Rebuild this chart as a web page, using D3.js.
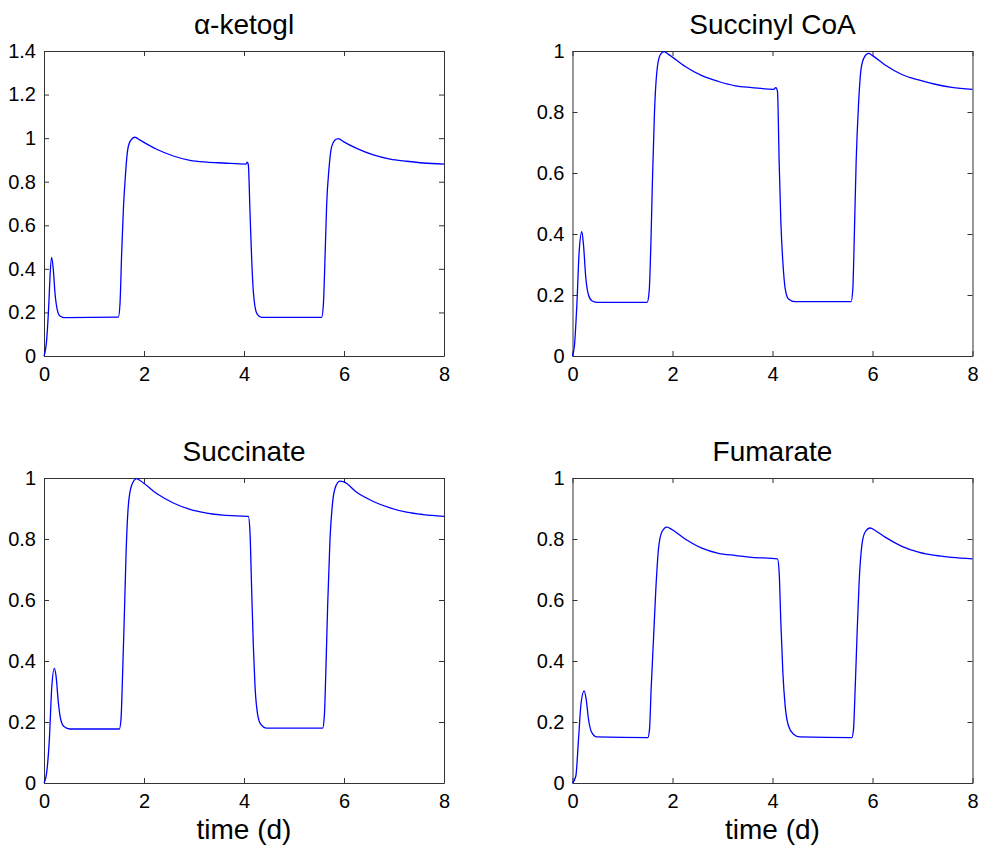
<!DOCTYPE html>
<html>
<head>
<meta charset="utf-8">
<script src="https://cdn.jsdelivr.net/npm/d3@7"></script>
<style>
  body { margin: 0; background: #fff; }
  text { font-family: "Liberation Sans", Arial, Helvetica, sans-serif; }
</style>
</head>
<body>
<svg id="chart" width="982" height="850"></svg>
<script>
// time axis ticks (days)
const xTicks = [0, 2, 4, 6, 8];
const yTicksKeto = [0, 0.2, 0.4, 0.6, 0.8, 1, 1.2, 1.4];
const yTicksUnit = [0, 0.2, 0.4, 0.6, 0.8, 1];

// alpha-ketoglutarate
const tKeto = [0, 0.053, 0.1, 0.12, 0.153, 0.187, 0.22, 0.267, 0.32, 0.42, 1.487, 1.52, 1.553, 1.587, 1.62, 1.667, 1.72, 1.82, 1.92, 2.253, 2.587, 2.92, 3.253, 3.587, 4.04, 4.067, 4.087, 4.12, 4.153, 4.187, 4.22, 4.267, 4.353, 5.553, 5.587, 5.62, 5.653, 5.7, 5.753, 5.82, 5.887, 5.987, 6.253, 6.587, 6.92, 7.253, 7.587, 8];
const vKeto = [0, 0.073, 0.257, 0.364, 0.453, 0.394, 0.288, 0.211, 0.184, 0.176, 0.178, 0.24, 0.47, 0.67, 0.8, 0.935, 0.984, 1.004, 0.991, 0.949, 0.918, 0.898, 0.89, 0.886, 0.881, 0.89, 0.877, 0.66, 0.448, 0.295, 0.226, 0.191, 0.177, 0.177, 0.234, 0.448, 0.693, 0.861, 0.961, 0.991, 0.998, 0.984, 0.953, 0.923, 0.904, 0.894, 0.886, 0.881];

// succinyl CoA
const tSucCoA = [0, 0.04, 0.087, 0.133, 0.187, 0.22, 0.267, 0.32, 0.387, 0.487, 1.493, 1.533, 1.567, 1.6, 1.64, 1.687, 1.753, 1.833, 1.92, 2.253, 2.587, 2.92, 3.253, 3.587, 4.02, 4.067, 4.1, 4.133, 4.167, 4.207, 4.253, 4.32, 4.453, 5.573, 5.607, 5.64, 5.673, 5.72, 5.773, 5.84, 5.92, 6.0, 6.253, 6.587, 6.92, 7.253, 7.587, 8];
const vSucCoA = [0, 0.036, 0.167, 0.342, 0.408, 0.364, 0.255, 0.2, 0.181, 0.176, 0.176, 0.211, 0.364, 0.583, 0.801, 0.932, 0.987, 0.998, 0.989, 0.949, 0.919, 0.9, 0.886, 0.88, 0.874, 0.88, 0.867, 0.637, 0.44, 0.309, 0.222, 0.187, 0.178, 0.178, 0.222, 0.419, 0.637, 0.823, 0.943, 0.981, 0.992, 0.985, 0.954, 0.923, 0.905, 0.891, 0.881, 0.874];

// succinate
const tSucc = [0, 0.053, 0.107, 0.153, 0.207, 0.24, 0.287, 0.333, 0.4, 0.52, 1.507, 1.54, 1.573, 1.607, 1.64, 1.687, 1.753, 1.853, 1.92, 2.253, 2.587, 2.92, 3.253, 3.587, 4.087, 4.12, 4.153, 4.187, 4.22, 4.267, 4.333, 4.453, 5.573, 5.607, 5.64, 5.673, 5.72, 5.773, 5.84, 5.92, 6.0, 6.253, 6.587, 6.92, 7.253, 7.587, 8];
const vSucc = [0, 0.034, 0.143, 0.308, 0.376, 0.352, 0.264, 0.209, 0.185, 0.177, 0.177, 0.209, 0.363, 0.549, 0.745, 0.91, 0.976, 0.998, 0.992, 0.949, 0.918, 0.897, 0.885, 0.878, 0.874, 0.821, 0.635, 0.45, 0.318, 0.231, 0.193, 0.18, 0.18, 0.22, 0.384, 0.581, 0.8, 0.921, 0.975, 0.99, 0.987, 0.953, 0.923, 0.902, 0.888, 0.88, 0.874];

// fumarate
const tFum = [0, 0.067, 0.12, 0.173, 0.233, 0.273, 0.32, 0.387, 0.487, 1.507, 1.54, 1.573, 1.62, 1.667, 1.72, 1.787, 1.887, 1.987, 2.253, 2.587, 2.92, 3.253, 3.587, 4.1, 4.133, 4.167, 4.207, 4.253, 4.32, 4.42, 4.553, 5.587, 5.62, 5.653, 5.693, 5.733, 5.787, 5.853, 5.953, 6.053, 6.253, 6.587, 6.92, 7.253, 7.587, 8];
const vFum = [0, 0.023, 0.143, 0.264, 0.302, 0.275, 0.209, 0.165, 0.151, 0.149, 0.176, 0.308, 0.472, 0.636, 0.768, 0.823, 0.839, 0.831, 0.8, 0.77, 0.753, 0.746, 0.74, 0.735, 0.691, 0.527, 0.363, 0.253, 0.187, 0.16, 0.151, 0.149, 0.176, 0.308, 0.494, 0.66, 0.779, 0.823, 0.836, 0.828, 0.806, 0.776, 0.757, 0.746, 0.74, 0.735];

const panels = [
  { title: "\u03B1-ketogl",   t: tKeto,   v: vKeto,   yMax: 1.4, yTicks: yTicksKeto, left: 44,    top: 51,  xlabel: false },
  { title: "Succinyl CoA", t: tSucCoA, v: vSucCoA, yMax: 1,   yTicks: yTicksUnit, left: 572.5, top: 51,  xlabel: false },
  { title: "Succinate",    t: tSucc,   v: vSucc,   yMax: 1,   yTicks: yTicksUnit, left: 44,    top: 478, xlabel: true },
  { title: "Fumarate",     t: tFum,    v: vFum,    yMax: 1,   yTicks: yTicksUnit, left: 572.5, top: 478, xlabel: true }
];

const width = 400, height = 305;
const axisColor = "#333";

const svg = d3.select("#chart");

panels.forEach(p => {
  const g = svg.append("g")
    .attr("transform", "translate(" + p.left + "," + p.top + ")");

  const x = d3.scaleLinear().domain([0, 8]).range([0, width]);
  const y = d3.scaleLinear().domain([0, p.yMax]).range([height, 0]);

  // bottom axis with labels
  g.append("g")
    .attr("transform", "translate(0," + height + ")")
    .call(d3.axisBottom(x).tickValues(xTicks).tickSizeInner(-5).tickSizeOuter(0).tickPadding(11).tickFormat(d => String(d)));
  // top axis, ticks only
  g.append("g")
    .call(d3.axisTop(x).tickValues(xTicks).tickSizeInner(-5).tickSizeOuter(0).tickFormat(""));
  // left axis with labels
  g.append("g")
    .call(d3.axisLeft(y).tickValues(p.yTicks).tickSizeInner(-5).tickSizeOuter(0).tickPadding(8).tickFormat(d => String(d)));
  // right axis, ticks only
  g.append("g")
    .attr("transform", "translate(" + width + ",0)")
    .call(d3.axisRight(y).tickValues(p.yTicks).tickSizeInner(-5).tickSizeOuter(0).tickFormat(""));

  g.selectAll(".domain, .tick line").attr("stroke", axisColor).attr("stroke-width", 1);
  g.selectAll(".tick text").attr("fill", "#000").style("font-size", "20px");

  const line = d3.line()
    .x(d => x(d[0]))
    .y(d => y(d[1]))
    .curve(d3.curveMonotoneX);

  g.append("path")
    .datum(d3.zip(p.t, p.v))
    .attr("fill", "none")
    .attr("stroke", "#0000ff")
    .attr("stroke-width", 1.3)
    .attr("d", line);

  g.append("text")
    .attr("x", width / 2)
    .attr("y", -17)
    .attr("text-anchor", "middle")
    .style("font-size", "28px")
    .text(p.title);

  if (p.xlabel) {
    g.append("text")
      .attr("x", width / 2)
      .attr("y", height + 56)
      .attr("text-anchor", "middle")
      .style("font-size", "28px")
      .text("time (d)");
  }
});
</script>
</body>
</html>
